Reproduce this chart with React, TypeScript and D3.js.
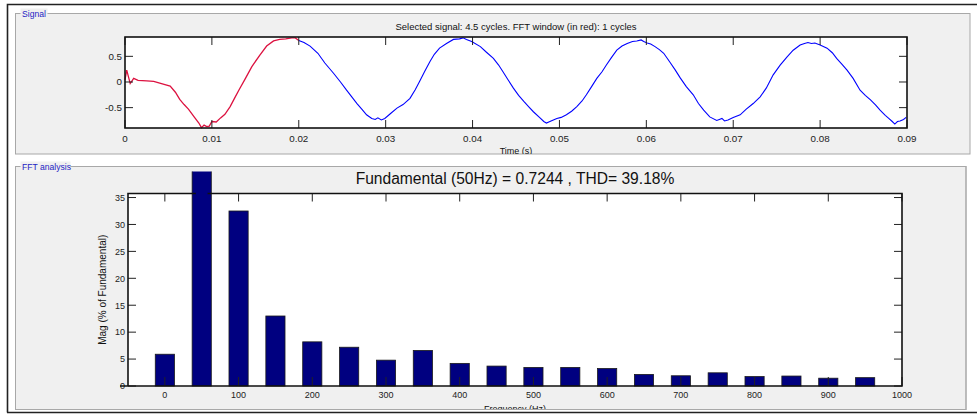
import React from "react";
import * as d3 from "d3";

// ---------- DATA ----------
const signalTime = [
  0.0, 0.0002, 0.0004, 0.0006, 0.001, 0.0015, 0.0025, 0.0033, 0.004, 0.0046,
  0.0052, 0.0058, 0.0063, 0.0068, 0.0073, 0.008, 0.0085, 0.0088, 0.0091, 0.0094,
  0.0097, 0.01, 0.0105, 0.011, 0.0115, 0.0121, 0.0126, 0.0131, 0.0138, 0.0146,
  0.0155, 0.0163, 0.0171, 0.0178, 0.0185, 0.0192, 0.0196, 0.02,
  0.0206, 0.0213, 0.0222, 0.023, 0.024, 0.0248, 0.0255, 0.0261, 0.0267, 0.0273,
  0.0278, 0.0284, 0.0288, 0.0291, 0.0295, 0.0299, 0.0306, 0.0313, 0.032, 0.0328,
  0.0334, 0.0339, 0.0345, 0.0351, 0.0356, 0.0362, 0.037, 0.0378, 0.0385, 0.0389,
  0.0393, 0.0399, 0.0409, 0.0416, 0.0424, 0.043, 0.0435, 0.0441, 0.0447, 0.0453,
  0.0459, 0.0465, 0.047, 0.0477, 0.0482, 0.0485, 0.0489, 0.0493, 0.0497, 0.0502,
  0.0508, 0.0514, 0.052, 0.0526, 0.0531, 0.0537, 0.0543, 0.0549, 0.0554, 0.056,
  0.0566, 0.0572, 0.0578, 0.0584, 0.0589, 0.0594, 0.0597, 0.0601, 0.0605, 0.061,
  0.0615, 0.062, 0.0627, 0.0633, 0.0639, 0.0646, 0.0654, 0.066, 0.0666, 0.0673,
  0.0681, 0.0684, 0.0687, 0.069, 0.0694, 0.07, 0.0708, 0.0715, 0.0723, 0.0731,
  0.0738, 0.0746, 0.0754, 0.0762, 0.0769, 0.0777, 0.0782, 0.0786, 0.079, 0.0794,
  0.08, 0.0808, 0.0814, 0.0819, 0.0825, 0.0831, 0.0838, 0.0846, 0.0852, 0.0858,
  0.0864, 0.0869, 0.0875, 0.0879, 0.0883, 0.0886, 0.0889, 0.0892, 0.0896, 0.0899,
];
const signalValue = [
  0.04, 0.23, 0.1, -0.03, 0.07, 0.03, 0.02, 0.01, -0.02, -0.05,
  -0.08, -0.2, -0.34, -0.44, -0.53, -0.69, -0.8, -0.89, -0.84, -0.87,
  -0.86, -0.77, -0.78, -0.7, -0.63, -0.48, -0.32, -0.16, 0.05, 0.3,
  0.52, 0.7, 0.8, 0.83, 0.84, 0.86, 0.86, 0.81,
  0.77, 0.7, 0.56, 0.37, 0.17, 0.0, -0.16, -0.29, -0.42, -0.54,
  -0.64, -0.71, -0.73, -0.7, -0.74, -0.71, -0.61, -0.51, -0.44, -0.32,
  -0.15, 0.01, 0.21, 0.4, 0.54, 0.66, 0.75, 0.83, 0.84, 0.86,
  0.83, 0.79, 0.69, 0.58, 0.46, 0.33, 0.2, 0.04, -0.12, -0.26,
  -0.38, -0.49, -0.58, -0.69, -0.77, -0.8, -0.77, -0.74, -0.71, -0.69,
  -0.64, -0.57, -0.48, -0.37, -0.25, -0.09, 0.07, 0.2, 0.33, 0.48,
  0.62, 0.7, 0.75, 0.79, 0.8, 0.82, 0.79, 0.76, 0.74, 0.69,
  0.63, 0.56, 0.39, 0.24, 0.08, -0.09, -0.25, -0.42, -0.55, -0.68,
  -0.75, -0.73, -0.71, -0.76, -0.74, -0.69, -0.64, -0.53, -0.42, -0.29,
  -0.12, 0.14, 0.33, 0.49, 0.62, 0.72, 0.75, 0.77, 0.75, 0.76,
  0.72, 0.66, 0.57, 0.46, 0.35, 0.23, 0.07, -0.16, -0.26, -0.35,
  -0.45, -0.55, -0.65, -0.71, -0.77, -0.82, -0.77, -0.76, -0.73, -0.69,
];
const fftWindowEnd = 0.02; // 1 cycle at 50 Hz shown in red
const signalYDomain = [-0.897, 0.877];
const signalXTicks = [0, 0.01, 0.02, 0.03, 0.04, 0.05, 0.06, 0.07, 0.08, 0.09];
const signalXTickLabels = ["0", "0.01", "0.02", "0.03", "0.04", "0.05", "0.06", "0.07", "0.08", "0.09"];
const signalYTicks = [-0.5, 0, 0.5];
const signalYTickLabels = ["-0.5", "0", "0.5"];

const fftFreq = [0, 50, 100, 150, 200, 250, 300, 350, 400, 450, 500, 550, 600, 650, 700, 750, 800, 850, 900, 950];
const fftMag = [5.9, 100, 32.5, 13.0, 8.2, 7.2, 4.8, 6.6, 4.2, 3.7, 3.45, 3.45, 3.25, 2.15, 1.9, 2.45, 1.75, 1.85, 1.45, 1.55];
const fftXTicks = [0, 100, 200, 300, 400, 500, 600, 700, 800, 900, 1000];
const fftYTicks = [0, 5, 10, 15, 20, 25, 30, 35];
const fftXDomain = [-50, 1000];
const fftYDomain = [0, 35.75];

const signalTitle = "Selected signal: 4.5 cycles. FFT window (in red): 1 cycles";
const fftTitle = "Fundamental (50Hz) = 0.7244 , THD= 39.18%";

// ---------- LAYOUT ----------
const W = 977;
const H = 414;
const FONT = "'Liberation Sans', Arial, Helvetica, sans-serif";

const sigPanel = { x: 15.5, y: 13.5, w: 954.5, h: 140.5 };
const fftPanel = { x: 15.5, y: 166.5, w: 950.5, h: 243 };
const sigAx = { x0: 125, x1: 907, y0: 37, y1: 128 };
const fftAx = { x0: 128, x1: 902, y0: 193.5, y1: 386 };
const TICK = 8;

export default function App() {
  const sx = d3.scaleLinear().domain([0, 0.09]).range([sigAx.x0, sigAx.x1]);
  const sy = d3.scaleLinear().domain(signalYDomain).range([sigAx.y1, sigAx.y0]);
  const pts = signalTime.map((t, i) => [t, signalValue[i]] as [number, number]);
  const line = d3
    .line<[number, number]>()
    .x((d) => sx(d[0]))
    .y((d) => sy(d[1]));
  const redPts = pts.filter((d) => d[0] <= fftWindowEnd + 1e-9);
  const bluePts = pts.filter((d) => d[0] >= fftWindowEnd - 1e-9);

  const fx = d3.scaleLinear().domain(fftXDomain).range([fftAx.x0, fftAx.x1]);
  const fy = d3.scaleLinear().domain(fftYDomain).range([fftAx.y1, fftAx.y0]);
  const barW = fx(26) - fx(0);

  const panelLabel = (p: typeof sigPanel, text: string, w: number) => (
    <g>
      <rect x={p.x + 5} y={p.y - 5} width={w} height={9} fill="#f0f0f0" />
      <text x={p.x + 6.5} y={p.y + 3.5} fontSize={8.6} fill="#2424c4" fontFamily={FONT}>
        {text}
      </text>
    </g>
  );

  return (
    <svg
      width={W}
      height={H}
      style={{ position: "absolute", left: 0, top: 0, background: "#fff" }}
      fontFamily={FONT}
    >
      <defs>
        <clipPath id="fftClip">
          <rect x={fftPanel.x} y={fftPanel.y + 5} width={fftPanel.w} height={fftPanel.h - 5.5} />
        </clipPath>
        <clipPath id="sigClip">
          <rect x={sigPanel.x} y={sigPanel.y} width={sigPanel.w} height={sigPanel.h} />
        </clipPath>
      </defs>
      <rect x={0} y={0} width={W} height={H} fill="#ffffff" />
      {/* outer frame */}
      <path d={`M7.5,${H - 1.5} V4.5 H${W}`} fill="none" stroke="#222" strokeWidth={1.6} />
      <line x1={7} x2={W} y1={412.5} y2={412.5} stroke="#222" strokeWidth={1.6} />

      {/* ---- Signal panel ---- */}
      <rect x={sigPanel.x} y={sigPanel.y} width={sigPanel.w} height={sigPanel.h} fill="#f0f0f0" stroke="#a8a8a8" strokeWidth={1} />
      {panelLabel(sigPanel, "Signal", 27)}
      <g clipPath="url(#sigClip)">
        <rect x={sigAx.x0} y={sigAx.y0} width={sigAx.x1 - sigAx.x0} height={sigAx.y1 - sigAx.y0} fill="#fff" />
        <path d={line(bluePts) || ""} fill="none" stroke="#0000ff" strokeWidth={1.1} />
        <path d={line(redPts) || ""} fill="none" stroke="#dc1240" strokeWidth={1.3} />
        {signalXTicks.map((t, i) => (
          <g key={"sxt" + i}>
            <line x1={sx(t)} x2={sx(t)} y1={sigAx.y1} y2={sigAx.y1 - TICK} stroke="#222" strokeWidth={1} />
            <line x1={sx(t)} x2={sx(t)} y1={sigAx.y0} y2={sigAx.y0 + TICK} stroke="#222" strokeWidth={1} />
            <text x={sx(t)} y={sigAx.y1 + 13.5} fontSize={9.8} textAnchor="middle" fill="#222">
              {signalXTickLabels[i]}
            </text>
          </g>
        ))}
        {signalYTicks.map((v, i) => (
          <g key={"syt" + i}>
            <line x1={sigAx.x0} x2={sigAx.x0 + TICK} y1={sy(v)} y2={sy(v)} stroke="#222" strokeWidth={1} />
            <line x1={sigAx.x1} x2={sigAx.x1 - TICK} y1={sy(v)} y2={sy(v)} stroke="#222" strokeWidth={1} />
            <text x={sigAx.x0 - 3} y={sy(v) + 3.5} fontSize={9.8} textAnchor="end" fill="#222">
              {signalYTickLabels[i]}
            </text>
          </g>
        ))}
        <rect x={sigAx.x0} y={sigAx.y0} width={sigAx.x1 - sigAx.x0} height={sigAx.y1 - sigAx.y0} fill="none" stroke="#111" strokeWidth={1.6} />
        <text x={(sigAx.x0 + sigAx.x1) / 2} y={29.5} fontSize={9.5} textAnchor="middle" fill="#111">
          {signalTitle}
        </text>
        <text x={(sigAx.x0 + sigAx.x1) / 2} y={154} fontSize={9} textAnchor="middle" fill="#111">
          Time (s)
        </text>
      </g>

      {/* ---- FFT panel ---- */}
      <rect x={fftPanel.x} y={fftPanel.y} width={fftPanel.w} height={fftPanel.h} fill="#f0f0f0" stroke="#a8a8a8" strokeWidth={1} />
      <g clipPath="url(#fftClip)">
        <rect x={fftAx.x0} y={fftAx.y0} width={fftAx.x1 - fftAx.x0} height={fftAx.y1 - fftAx.y0} fill="#fff" />
        <text x={(fftAx.x0 + fftAx.x1) / 2} y={184} fontSize={15.6} textAnchor="middle" fill="#111">
          {fftTitle}
        </text>
        {fftFreq.map((f, i) => (
          <rect
            key={"bar" + i}
            x={fx(f) - barW / 2}
            y={fy(fftMag[i])}
            width={barW}
            height={fy(0) - fy(fftMag[i])}
            fill="#000080"
            stroke="#1a1a1a"
            strokeWidth={0.8}
          />
        ))}
        {fftXTicks.map((f, i) => (
          <g key={"fxt" + i}>
            <line x1={fx(f)} x2={fx(f)} y1={fftAx.y1} y2={fftAx.y1 - TICK - 1} stroke="#222" strokeWidth={1} />
            <line x1={fx(f)} x2={fx(f)} y1={fftAx.y0} y2={fftAx.y0 + TICK} stroke="#222" strokeWidth={1} />
            <text x={fx(f)} y={fftAx.y1 + 12} fontSize={9} textAnchor="middle" fill="#222">
              {String(f)}
            </text>
          </g>
        ))}
        {fftYTicks.map((v, i) => (
          <g key={"fyt" + i}>
            <line x1={fftAx.x0} x2={fftAx.x0 + TICK} y1={fy(v)} y2={fy(v)} stroke="#222" strokeWidth={1} />
            <line x1={fftAx.x1} x2={fftAx.x1 - TICK} y1={fy(v)} y2={fy(v)} stroke="#222" strokeWidth={1} />
            <text x={fftAx.x0 - 3} y={fy(v) + 3.3} fontSize={9} textAnchor="end" fill="#222">
              {String(v)}
            </text>
          </g>
        ))}
        <path
          d={`M${fftAx.x0 - 8},${fftAx.y1} H${fftAx.x1} V${fftAx.y0} H${fx(58)} M${fx(42)},${fftAx.y0} H${fftAx.x0} V${fftAx.y1}`}
          fill="none"
          stroke="#111"
          strokeWidth={1.6}
        />
        <text
          transform={`translate(106,${(fftAx.y0 + fftAx.y1) / 2}) rotate(-90)`}
          fontSize={10}
          textAnchor="middle"
          fill="#111"
        >
          Mag (% of Fundamental)
        </text>
        <text x={(fftAx.x0 + fftAx.x1) / 2} y={411.5} fontSize={9} textAnchor="middle" fill="#111">
          Frequency (Hz)
        </text>
      </g>
      <rect x={fftPanel.x} y={fftPanel.y} width={fftPanel.w} height={fftPanel.h} fill="none" stroke="#a8a8a8" strokeWidth={1} />
      {panelLabel(fftPanel, "FFT analysis", 50)}
    </svg>
  );
}
